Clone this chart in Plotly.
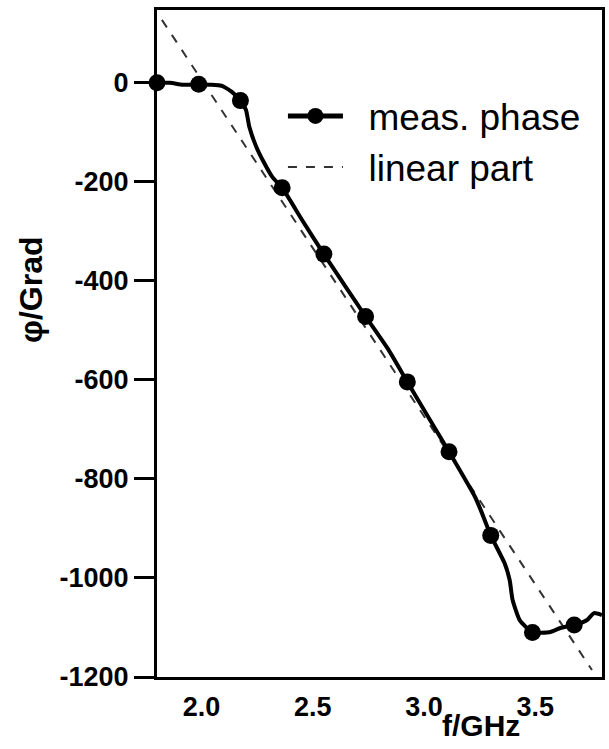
import plotly.graph_objects as go

freq_curve = [1.80, 1.858, 1.916, 1.9875, 2.037, 2.09, 2.135, 2.175, 2.20, 2.215, 2.246, 2.282,
              2.318, 2.3625, 2.452, 2.55, 2.648, 2.7375, 2.84, 2.925, 3.019, 3.1125, 3.229,
              3.255, 3.30, 3.362, 3.385, 3.398, 3.43, 3.4875, 3.568, 3.613, 3.675, 3.733,
              3.764, 3.80]
phase_curve = [0, 0, -4, -3, -4, -6, -18, -36, -55, -89, -129, -162,
               -190, -212, -277, -346, -412, -472, -539, -604, -675, -745, -836,
               -863, -914, -970, -1004, -1044, -1085, -1110, -1109, -1101, -1095, -1085,
               -1071, -1075]

# measured phase marker points
freq_markers = [1.8, 1.9875, 2.175, 2.3625, 2.55, 2.7375, 2.925, 3.1125, 3.3, 3.4875, 3.675]
phase_markers = [0, -3, -36, -212, -346, -472, -604, -745, -914, -1110, -1095]

# linear part
freq_linear = [1.822, 3.755]
phase_linear = [127, -1186]

x_ticks = [2.0, 2.5, 3.0, 3.5]
x_ticktext = ["2.0", "2.5", "3.0", "3.5"]
y_ticks = [0, -200, -400, -600, -800, -1000, -1200]
y_ticktext = ["0", "-200", "-400", "-600", "-800", "-1000", "-1200"]

TICKFONT = dict(family="Liberation Sans, Arial", size=27, color="black", weight="bold")

fig = go.Figure()

fig.add_trace(go.Scatter(
    x=freq_linear, y=phase_linear, mode="lines", name="linear part",
    line=dict(color="#333333", width=2, dash="dash"), showlegend=False,
))
fig.add_trace(go.Scatter(
    x=freq_curve, y=phase_curve, mode="lines", name="meas. phase",
    line=dict(color="black", width=4, shape="spline", smoothing=0.5),
    showlegend=False,
))
fig.add_trace(go.Scatter(
    x=freq_markers, y=phase_markers, mode="markers", name="meas. phase",
    marker=dict(color="black", size=17, symbol="circle"), cliponaxis=False,
    showlegend=False,
))
# legend entries
fig.add_trace(go.Scatter(
    x=[None], y=[None], mode="lines+markers", name="  meas. phase",
    line=dict(color="black", width=5), marker=dict(color="black", size=17),
))
fig.add_trace(go.Scatter(
    x=[None], y=[None], mode="lines", name="  linear part",
    line=dict(color="#333333", width=2, dash="dash"),
))

fig.update_layout(
    width=609, height=749,
    margin=dict(l=157, r=4, t=10, b=72),
    plot_bgcolor="white", paper_bgcolor="white",
    font=dict(family="Liberation Sans, Arial", color="black"),
    legend=dict(
        x=0.283, y=0.887, xanchor="left", yanchor="top",
        bgcolor="rgba(0,0,0,0)", borderwidth=0,
        font=dict(family="Liberation Sans, Arial", size=37, color="black"),
        itemwidth=55, tracegroupgap=0,
    ),
    xaxis=dict(
        range=[1.8, 3.8], tickvals=x_ticks, ticktext=x_ticktext,
        showline=True, linecolor="black", linewidth=3, mirror=True,
        ticks="outside", ticklen=4, tickcolor="rgba(0,0,0,0)",
        showgrid=False, zeroline=False, tickfont=TICKFONT,
    ),
    yaxis=dict(
        range=[-1200, 147], tickvals=y_ticks, ticktext=y_ticktext,
        showline=True, linecolor="black", linewidth=3, mirror=True,
        ticks="outside", ticklen=20, tickwidth=3, tickcolor="black",
        showgrid=False, zeroline=False, tickfont=TICKFONT,
    ),
    annotations=[
        dict(text="f/GHz", xref="paper", yref="paper", x=0.728, y=-0.073,
             xanchor="center", yanchor="middle", showarrow=False,
             font=dict(family="Liberation Sans, Arial", size=30, color="black", weight="bold")),
        dict(text="φ/Grad", xref="paper", yref="paper", x=-0.2835, y=0.580,
             xanchor="center", yanchor="middle", showarrow=False, textangle=-90,
             font=dict(family="Liberation Sans, Arial", size=32, color="black", weight="bold")),
    ],
)

fig.write_html("out.html")
